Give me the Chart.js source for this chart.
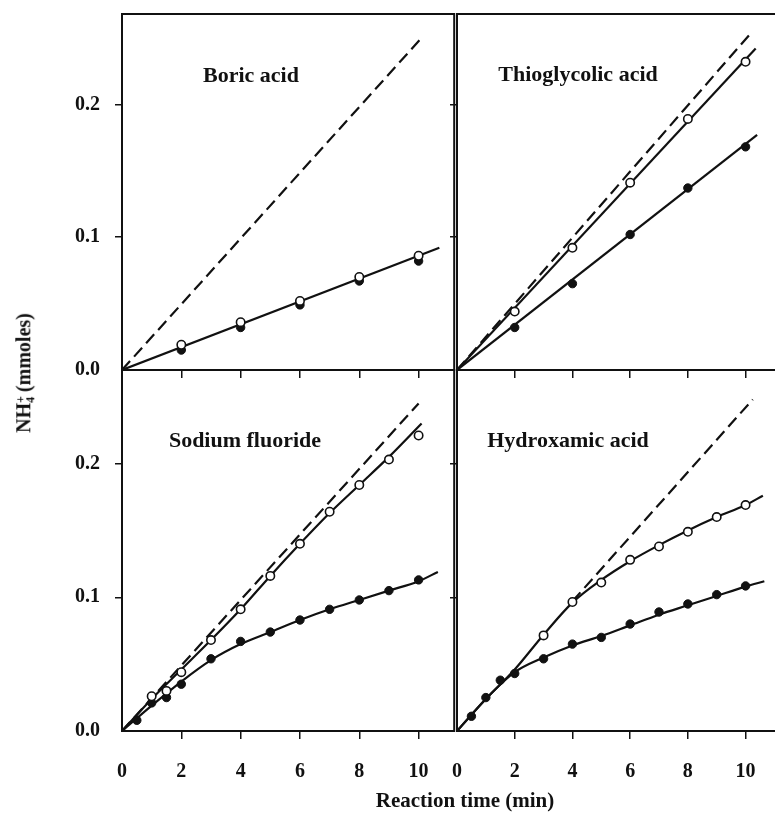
<!DOCTYPE html>
<html>
<head>
<meta charset="utf-8">
<script src="https://cdn.jsdelivr.net/npm/chart.js@4.4.1/dist/chart.umd.min.js"></script>
<style>
body { margin: 0; background: #fff; }
#fig { position: relative; width: 775px; height: 814px; overflow: hidden; background: #fff;
       font-family: "Liberation Serif", "DejaVu Serif", serif; font-weight: bold; color: #111; }
#fig canvas { position: absolute; }
.lbl { position: absolute; font-size: 21px; white-space: nowrap; transform: translate(-50%, -50%); }
.ptitle { font-size: 22px; }
.ytitle { font-size: 20px; transform: translate(-50%, -50%) rotate(-90deg); }
.ss { display: inline-flex; flex-direction: column; font-size: 12px; line-height: 10px; vertical-align: middle; margin-right: 4px; }
</style>
</head>
<body>
<div id="fig">
  <canvas id="c1" width="460" height="380" style="left:0;top:0"></canvas>
  <canvas id="c2" width="341" height="380" style="left:445px;top:0"></canvas>
  <canvas id="c3" width="460" height="454" style="left:0;top:360px"></canvas>
  <canvas id="c4" width="341" height="454" style="left:445px;top:360px"></canvas>
  <div class="lbl ptitle" style="left:251px;top:75px">Boric acid</div>
  <div class="lbl ptitle" style="left:578px;top:74px">Thioglycolic acid</div>
  <div class="lbl ptitle" style="left:245px;top:440px">Sodium fluoride</div>
  <div class="lbl ptitle" style="left:568px;top:440px">Hydroxamic acid</div>
  <div class="lbl" style="left:465px;top:800px">Reaction time (min)</div>
  <div class="lbl ytitle" style="left:24px;top:373px">NH<span class="ss"><span>+</span><span>4</span></span>(mmoles)</div>
</div>
<script>
// top panels: samples every 2 min
const topTimes = [2, 4, 6, 8, 10];

// Boric acid
const boricOpen = [0.019, 0.036, 0.052, 0.070, 0.086];
const boricFilled = [0.015, 0.032, 0.049, 0.067, 0.082];
const boricFitT = [0, 10.7];
const boricFit = [0, 0.092];
const boricIdealT = [0, 10.1];
const boricIdeal = [0, 0.25];

// Thioglycolic acid
const thioOpen = [0.044, 0.092, 0.141, 0.189, 0.232];
const thioFilled = [0.032, 0.065, 0.102, 0.137, 0.168];
const thioOpenFitT = [0, 10.35];
const thioOpenFit = [0, 0.242];
const thioFilledFitT = [0, 10.4];
const thioFilledFit = [0, 0.177];
const thioIdealT = [0, 10.2];
const thioIdeal = [0, 0.254];

// Sodium fluoride
const naOpenT = [1, 1.5, 2, 3, 4, 5, 6, 7, 8, 9, 10];
const naOpen = [0.026, 0.030, 0.044, 0.068, 0.091, 0.116, 0.140, 0.164, 0.184, 0.203, 0.221];
const naFilledT = [0.5, 1, 1.5, 2, 3, 4, 5, 6, 7, 8, 9, 10];
const naFilled = [0.008, 0.021, 0.025, 0.035, 0.054, 0.067, 0.074, 0.083, 0.091, 0.098, 0.105, 0.113];
const naOpenCurveT = [0, 1, 2, 3, 4, 5, 6, 7, 8, 9, 10.1];
const naOpenCurve = [0, 0.024, 0.046, 0.068, 0.091, 0.116, 0.140, 0.163, 0.184, 0.205, 0.230];
const naFilledCurveT = [0, 1, 2, 3, 4, 5, 6, 7, 8, 9, 10, 10.65];
const naFilledCurve = [0, 0.019, 0.037, 0.053, 0.065, 0.074, 0.083, 0.091, 0.098, 0.105, 0.112, 0.119];
const naIdealT = [0, 10.0];
const naIdeal = [0, 0.245];

// Hydroxamic acid
const hxOpenT = [3, 4, 5, 6, 7, 8, 9, 10];
const hxOpen = [0.0715, 0.0965, 0.111, 0.128, 0.138, 0.149, 0.160, 0.169];
const hxFilledT = [0.5, 1, 1.5, 2, 3, 4, 5, 6, 7, 8, 9, 10];
const hxFilled = [0.011, 0.025, 0.038, 0.043, 0.054, 0.065, 0.070, 0.080, 0.089, 0.095, 0.102, 0.1085];
const hxOpenCurveT = [0, 1, 2, 3, 4, 5, 6, 7, 8, 9, 10, 10.6];
const hxOpenCurve = [0, 0.024, 0.046, 0.072, 0.096, 0.113, 0.127, 0.139, 0.150, 0.160, 0.169, 0.176];
const hxFilledCurveT = [0, 1, 2, 3, 4, 5, 6, 7, 8, 9, 10, 10.65];
const hxFilledCurve = [0, 0.024, 0.044, 0.055, 0.064, 0.071, 0.079, 0.087, 0.094, 0.101, 0.108, 0.112];
const hxIdealT = [4, 10.25];
const hxIdeal = [0.097, 0.248];

const INK = '#111';
const FONT = { family: '"Liberation Serif", "DejaVu Serif", serif', size: 20, weight: 'bold' };

function pts(xs, ys) {
    return xs.map((x, i) => ({ x: x, y: ys[i] }));
}
function openPts(xs, ys) {
    return { data: pts(xs, ys), showLine: false, pointRadius: 4.2, pointBackgroundColor: '#fff',
             pointBorderColor: INK, pointBorderWidth: 1.6, order: 0 };
}
function filledPts(xs, ys) {
    return { data: pts(xs, ys), showLine: false, pointRadius: 4.2, pointBackgroundColor: INK,
             pointBorderColor: INK, pointBorderWidth: 1, order: 0 };
}
function solid(xs, ys) {
    return { data: pts(xs, ys), showLine: true, pointRadius: 0, borderColor: INK, borderWidth: 2.2,
             cubicInterpolationMode: 'monotone', order: 1 };
}
function dashed(xs, ys) {
    return { data: pts(xs, ys), showLine: true, pointRadius: 0, borderColor: INK, borderWidth: 2.2,
             borderDash: [12, 6], order: 2 };
}

// box around each plot area
const frame = {
    id: 'frame',
    afterDatasetsDraw(chart) {
        const a = chart.chartArea, c = chart.ctx;
        c.save();
        c.strokeStyle = INK;
        c.lineWidth = 2;
        c.strokeRect(a.left, a.top, a.right - a.left, a.bottom - a.top);
        c.restore();
    }
};

function tickColor(ctx) {
    return ctx.tick && ctx.tick.value === 0 ? 'rgba(0,0,0,0)' : INK;
}

// fixed axis size, no extra room for edge labels
function fixSize(s, w, h) {
    if (w !== null) s.width = w;
    if (h !== null) s.height = h;
    s.paddingLeft = 0; s.paddingRight = 0; s.paddingTop = 0; s.paddingBottom = 0;
}

function panel(id, o) {
    new Chart(document.getElementById(id), {
        type: 'scatter',
        data: { datasets: o.datasets },
        options: {
            responsive: false,
            animation: false,
            events: [],
            layout: { padding: { top: o.top, right: 5, left: 0, bottom: 0 } },
            plugins: { legend: { display: false }, tooltip: { enabled: false } },
            scales: {
                x: {
                    type: 'linear', min: 0, max: 11.2,
                    border: { display: false },
                    grid: { drawOnChartArea: false, drawTicks: true, tickLength: 8, lineWidth: 1.5, color: tickColor },
                    ticks: { display: o.xLabels, stepSize: 2, includeBounds: false, padding: 21, color: INK, font: FONT },
                    afterFit: s => fixSize(s, null, o.xh)
                },
                y: {
                    type: 'linear', min: 0, max: o.ymax,
                    border: { display: false },
                    grid: { drawOnChartArea: false, drawTicks: true, tickLength: 7, lineWidth: 1.5, color: tickColor },
                    ticks: { display: o.yLabels, stepSize: 0.1, includeBounds: false, padding: 15, color: INK, font: FONT,
                             callback: v => v.toFixed(1) },
                    afterFit: s => fixSize(s, o.yw, null)
                }
            }
        },
        plugins: [frame]
    });
}

panel('c1', { top: 14, xh: 10, yw: 122, ymax: 0.268, xLabels: false, yLabels: true, datasets: [
    openPts(topTimes, boricOpen), filledPts(topTimes, boricFilled),
    solid(boricFitT, boricFit), dashed(boricIdealT, boricIdeal)
]});
panel('c2', { top: 14, xh: 10, yw: 12, ymax: 0.268, xLabels: false, yLabels: false, datasets: [
    openPts(topTimes, thioOpen), filledPts(topTimes, thioFilled),
    solid(thioOpenFitT, thioOpenFit), solid(thioFilledFitT, thioFilledFit), dashed(thioIdealT, thioIdeal)
]});
panel('c3', { top: 10, xh: 83, yw: 122, ymax: 0.27, xLabels: true, yLabels: true, datasets: [
    openPts(naOpenT, naOpen), filledPts(naFilledT, naFilled),
    solid(naOpenCurveT, naOpenCurve), solid(naFilledCurveT, naFilledCurve), dashed(naIdealT, naIdeal)
]});
panel('c4', { top: 10, xh: 83, yw: 12, ymax: 0.27, xLabels: true, yLabels: false, datasets: [
    openPts(hxOpenT, hxOpen), filledPts(hxFilledT, hxFilled),
    solid(hxOpenCurveT, hxOpenCurve), solid(hxFilledCurveT, hxFilledCurve), dashed(hxIdealT, hxIdeal)
]});
</script>
</body>
</html>
